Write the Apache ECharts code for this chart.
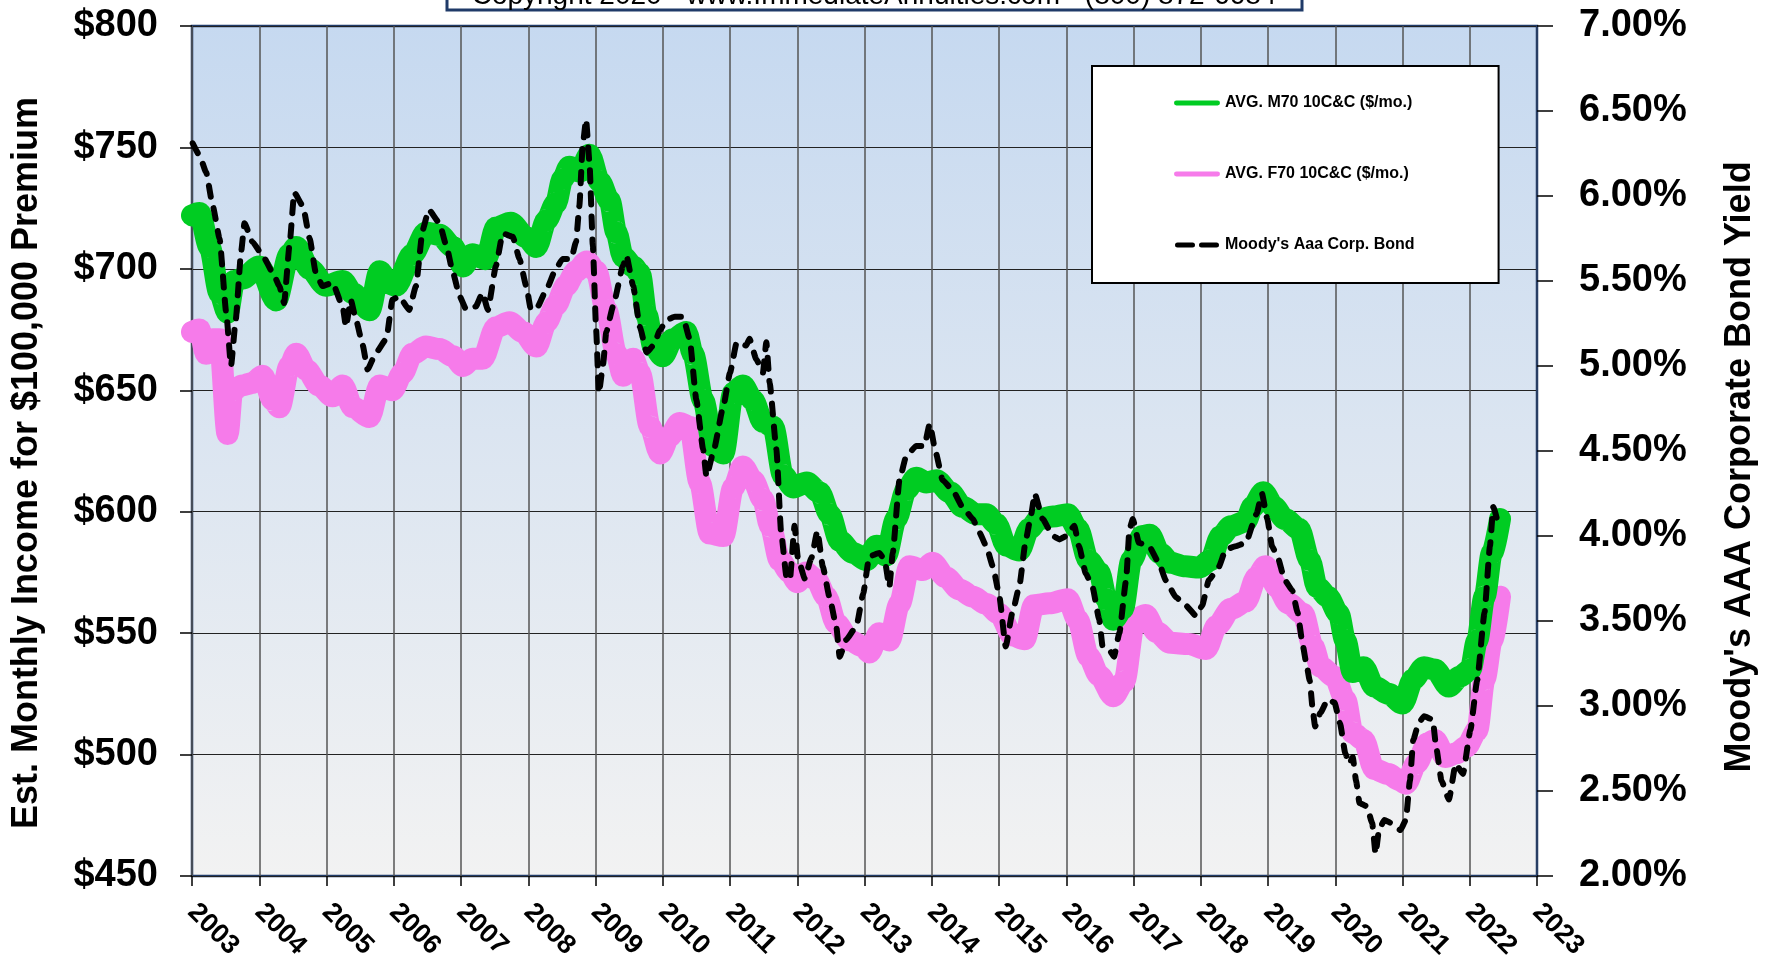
<!DOCTYPE html>
<html><head><meta charset="utf-8">
<script src="https://cdn.jsdelivr.net/npm/echarts@6/dist/echarts.min.js"></script>
<style>html,body{margin:0;padding:0;background:#fff}#chart{width:1775px;height:971px}</style>
</head><body><div id="chart"></div>
<script>
// ---- DATA ----
const seriesNames = ['AVG. M70 10C&C ($/mo.)', 'AVG. F70 10C&C ($/mo.)', "Moody's Aaa Corp. Bond"];
const yearTicks = {min: 2003, max: 2023, step: 1};
const incomeTicks = {min: 450, max: 800, step: 50};
const yieldTicks = {min: 2, max: 7, step: 0.5};

const m70Time = [2003.00,2003.11,2003.26,2003.41,2003.53,2003.63,2003.75,2004.00,2004.25,2004.45,2004.55,2004.75,2004.99,2005.24,2005.39,2005.64,2005.79,2005.93,2006.03,2006.28,2006.48,2006.68,2006.88,2007.03,2007.17,2007.37,2007.52,2007.74,2007.97,2008.12,2008.27,2008.41,2008.51,2008.61,2008.76,2008.91,2009.06,2009.21,2009.31,2009.41,2009.56,2009.66,2009.76,2009.86,2010.00,2010.15,2010.35,2010.45,2010.60,2010.75,2010.90,2011.05,2011.19,2011.34,2011.49,2011.64,2011.79,2011.94,2012.14,2012.33,2012.48,2012.63,2012.83,2013.03,2013.18,2013.32,2013.47,2013.62,2013.77,2013.92,2014.07,2014.27,2014.46,2014.66,2014.81,2014.96,2015.11,2015.30,2015.45,2015.60,2015.80,2016.02,2016.17,2016.33,2016.49,2016.60,2016.70,2016.84,2016.97,2017.13,2017.24,2017.39,2017.55,2017.77,2017.98,2018.14,2018.30,2018.45,2018.67,2018.77,2018.93,2019.09,2019.25,2019.46,2019.62,2019.73,2019.89,2020.05,2020.15,2020.26,2020.42,2020.58,2020.79,2021.00,2021.16,2021.32,2021.48,2021.69,2021.85,2022.01,2022.11,2022.22,2022.33,2022.45];
const m70Income = [722,723,709,690,682,695,696,701,687,706,709,700,693,695,690,683,699,694,693,706,715,714,709,701,706,704,717,719,713,709,720,727,737,742,740,747,736,728,715,705,701,698,681,668,664,671,674,665,646,627,624,649,652,646,637,635,615,610,612,608,599,588,583,580,586,582,597,609,614,612,613,608,602,599,599,595,586,584,593,597,598,599,593,580,575,564,555.5,560,580,590,590.5,583,579,577.5,577,580,590,594,596,602,608,602,597,593,580,569,565,558,547,534,536,528,525,521,531,536,535,528,532,535,547,565,583,597];

const f70Time = [2003.00,2003.11,2003.21,2003.31,2003.41,2003.53,2003.60,2003.75,2003.90,2004.05,2004.20,2004.30,2004.45,2004.55,2004.70,2004.89,2005.09,2005.24,2005.39,2005.64,2005.79,2005.98,2006.13,2006.28,2006.48,2006.68,2006.88,2007.03,2007.17,2007.32,2007.52,2007.72,2007.92,2008.12,2008.27,2008.41,2008.56,2008.71,2008.87,2009.01,2009.16,2009.31,2009.41,2009.56,2009.66,2009.81,2009.96,2010.10,2010.25,2010.40,2010.55,2010.70,2010.90,2011.05,2011.19,2011.34,2011.49,2011.60,2011.74,2011.89,2012.00,2012.13,2012.28,2012.43,2012.58,2012.78,2012.98,2013.07,2013.22,2013.37,2013.52,2013.67,2013.87,2014.01,2014.21,2014.41,2014.61,2014.81,2015.00,2015.20,2015.38,2015.52,2015.75,2016.02,2016.17,2016.33,2016.49,2016.70,2016.86,2017.02,2017.18,2017.34,2017.55,2017.82,2018.08,2018.24,2018.45,2018.67,2018.83,2018.96,2019.14,2019.30,2019.52,2019.67,2019.78,2019.99,2020.15,2020.26,2020.42,2020.58,2020.79,2020.95,2021.05,2021.21,2021.37,2021.48,2021.64,2021.80,2021.95,2022.11,2022.22,2022.33,2022.45];
const f70Income = [674,675,665,671,671,632,650,652,653,656,646,643,660,665,658.5,652,647.5,652,643,639,652,650,657,665,668,667,664,660,663,663,676,678,674,668,678,685,693,699,703,699,683,665,656,663,657,635,624,631,636.5,635,612,591,590,610,618.6,613,605,594,580,575,571,575,572,565,554,547,544.5,542,550,547,562,577.5,576,579,573,568,565,562,558,549,547.5,561.5,562.3,564,555.5,540.5,532.5,524,530,555.5,557.5,550.5,546,545.5,543.5,553,560,563,573,577.5,569,562.3,558,544.5,536.2,532,522.5,509,506,494,492,489.5,488,496.4,504.6,506,499,500.5,503.3,510,531,547,565];

const aaaTime = [2003.01,2003.11,2003.21,2003.31,2003.41,2003.51,2003.58,2003.65,2003.73,2003.78,2003.90,2004.05,2004.20,2004.30,2004.37,2004.45,2004.52,2004.65,2004.75,2004.84,2004.94,2005.09,2005.24,2005.29,2005.36,2005.44,2005.54,2005.61,2005.74,2005.89,2005.98,2006.08,2006.23,2006.33,2006.43,2006.52,2006.68,2006.78,2006.88,2006.98,2007.08,2007.22,2007.32,2007.40,2007.52,2007.62,2007.77,2007.87,2007.97,2008.04,2008.14,2008.27,2008.41,2008.51,2008.64,2008.71,2008.76,2008.81,2008.86,2008.91,2008.96,2009.01,2009.05,2009.11,2009.16,2009.26,2009.41,2009.46,2009.56,2009.66,2009.76,2009.86,2009.96,2010.05,2010.18,2010.30,2010.40,2010.50,2010.60,2010.65,2010.75,2010.90,2011.00,2011.10,2011.24,2011.29,2011.39,2011.49,2011.54,2011.59,2011.69,2011.76,2011.84,2011.89,2011.96,2012.01,2012.11,2012.21,2012.30,2012.38,2012.48,2012.58,2012.63,2012.73,2012.88,2012.98,2013.07,2013.22,2013.30,2013.37,2013.42,2013.52,2013.62,2013.77,2013.89,2013.97,2014.06,2014.16,2014.31,2014.46,2014.61,2014.71,2014.81,2014.91,2015.00,2015.10,2015.20,2015.30,2015.40,2015.48,2015.53,2015.65,2015.80,2015.90,2016.00,2016.12,2016.19,2016.29,2016.39,2016.49,2016.54,2016.64,2016.71,2016.79,2016.89,2016.94,2016.99,2017.08,2017.23,2017.38,2017.48,2017.63,2017.78,2017.93,2018.02,2018.12,2018.27,2018.37,2018.52,2018.67,2018.83,2018.91,2018.99,2019.06,2019.14,2019.25,2019.36,2019.44,2019.52,2019.57,2019.62,2019.67,2019.70,2019.78,2019.89,2019.99,2020.07,2020.15,2020.21,2020.26,2020.31,2020.36,2020.47,2020.55,2020.60,2020.65,2020.73,2020.84,2020.97,2021.05,2021.11,2021.16,2021.24,2021.32,2021.45,2021.50,2021.58,2021.69,2021.79,2021.90,2022.01,2022.11,2022.22,2022.30,2022.35,2022.43];
const aaaYield = [6.31,6.24,6.14,5.94,5.75,5.31,5.00,5.27,5.67,5.84,5.73,5.65,5.55,5.47,5.37,5.71,6.02,5.94,5.75,5.55,5.47,5.49,5.35,5.23,5.39,5.27,5.12,4.98,5.08,5.16,5.39,5.41,5.33,5.47,5.80,5.92,5.84,5.71,5.55,5.41,5.33,5.35,5.43,5.33,5.59,5.78,5.76,5.63,5.47,5.33,5.35,5.45,5.57,5.63,5.63,5.73,5.94,6.30,6.45,6.20,5.71,5.21,4.84,5.00,5.20,5.35,5.59,5.65,5.47,5.23,5.08,5.12,5.21,5.27,5.29,5.29,5.16,4.80,4.51,4.35,4.49,4.76,4.96,5.14,5.12,5.16,5.04,4.96,5.14,4.90,4.51,4.02,3.76,3.74,4.06,3.87,3.75,3.87,4.03,3.82,3.64,3.47,3.29,3.39,3.47,3.66,3.88,3.90,3.86,3.70,3.90,4.33,4.47,4.53,4.53,4.66,4.49,4.33,4.27,4.17,4.10,4.02,3.94,3.82,3.66,3.35,3.55,3.70,3.98,4.13,4.25,4.10,4.00,3.98,4.00,4.06,3.94,3.78,3.70,3.51,3.35,3.33,3.29,3.43,3.74,4.04,4.10,3.96,3.94,3.84,3.74,3.64,3.59,3.53,3.59,3.74,3.82,3.92,3.94,3.96,4.13,4.25,4.10,3.94,3.88,3.74,3.68,3.55,3.35,3.25,3.15,2.96,2.88,2.96,3.04,3.02,2.90,2.72,2.66,2.70,2.56,2.43,2.41,2.31,2.13,2.27,2.33,2.31,2.27,2.33,2.56,2.80,2.90,2.94,2.92,2.76,2.56,2.45,2.66,2.60,2.86,3.15,3.55,3.94,4.17,4.06];

const copyrightText = 'Copyright 2020 - www.ImmediateAnnuities.com - (800) 872-6684';
const leftTitle = 'Est. Monthly Income for $100,000 Premium';
const rightTitle = "Moody's AAA Corporate Bond Yield";

// ---- CHART ----
const zip = (a, b) => a.map((t, i) => [t, b[i]]);
const FONT = "'Liberation Sans', Arial, Helvetica, sans-serif";
const NAVY = '#1F3A68';
const GREEN = '#00CC22', PINK = '#F67BEA', BLACK = '#000000';
const chart = echarts.init(document.getElementById('chart'), null, {renderer: 'canvas'});

const barIcon = 'path://M2,0 H44 A2,2 0 0 1 44,5 H2 A2,2 0 0 1 2,0 Z';
const dashIcon = 'path://M2,0 H17 A2,2 0 0 1 17,5 H2 A2,2 0 0 1 2,0 Z M26,0 H41 A2,2 0 0 1 41,5 H26 A2,2 0 0 1 26,0 Z';

const option = {
  animation: false,
  backgroundColor: '#ffffff',
  textStyle: {fontFamily: FONT},
  grid: {
    left: 192, top: 26, width: 1345, height: 850, show: true,
    borderColor: NAVY, borderWidth: 2.5,
    backgroundColor: {type: 'linear', x: 0, y: 0, x2: 0, y2: 1,
      colorStops: [{offset: 0, color: '#C6D9F0'}, {offset: 1, color: '#F2F2F2'}]}
  },
  xAxis: {
    type: 'value', min: yearTicks.min, max: yearTicks.max, interval: yearTicks.step,
    axisLine: {show: false},
    axisTick: {show: true, length: 10, lineStyle: {color: '#000', width: 1.5}},
    axisLabel: {rotate: -45, margin: 32, fontSize: 27, fontWeight: 'bold', color: '#000', fontFamily: FONT,
      formatter: v => String(v)},
    splitLine: {show: true, lineStyle: {color: '#555', width: 1.5}}
  },
  yAxis: [
    {
      type: 'value', position: 'left', min: incomeTicks.min, max: incomeTicks.max, interval: incomeTicks.step,
      axisLine: {show: false},
      axisTick: {show: true, length: 12, lineStyle: {color: '#000', width: 1.5}},
      axisLabel: {margin: 34, fontSize: 38, fontWeight: 'bold', color: '#000', fontFamily: FONT,
        formatter: v => '$' + v},
      splitLine: {show: true, lineStyle: {color: '#222', width: 1}}
    },
    {
      type: 'value', position: 'right', min: yieldTicks.min, max: yieldTicks.max, interval: yieldTicks.step,
      axisLine: {show: true, lineStyle: {color: NAVY, width: 1.5}},
      axisTick: {show: true, length: 16, lineStyle: {color: '#000', width: 1.5}},
      axisLabel: {margin: 42, fontSize: 38, fontWeight: 'bold', color: '#000', fontFamily: FONT,
        formatter: v => v.toFixed(2) + '%'},
      splitLine: {show: false}
    }
  ],
  legend: {
    orient: 'vertical', left: 1092, top: 66,
    padding: [29, 84, 30, 82], itemGap: 55, itemWidth: 46, itemHeight: 5,
    backgroundColor: '#fff', borderColor: '#000', borderWidth: 2,
    selectedMode: false,
    textStyle: {fontSize: 16, fontWeight: 'bold', color: '#000', fontFamily: FONT},
    data: [
      {name: seriesNames[0], icon: barIcon, itemStyle: {color: GREEN}},
      {name: seriesNames[1], icon: barIcon, itemStyle: {color: PINK}},
      {name: seriesNames[2], icon: dashIcon, itemStyle: {color: BLACK}}
    ]
  },
  series: [
    {
      name: seriesNames[1], type: 'line', yAxisIndex: 0, data: zip(f70Time, f70Income),
      symbol: 'none', smooth: 0.3, smoothMonotone: 'x', z: 2,
      lineStyle: {color: PINK, width: 22, cap: 'round', join: 'round'},
      itemStyle: {color: PINK}
    },
    {
      name: seriesNames[0], type: 'line', yAxisIndex: 0, data: zip(m70Time, m70Income),
      symbol: 'none', smooth: 0.3, smoothMonotone: 'x', z: 3,
      lineStyle: {color: GREEN, width: 22, cap: 'round', join: 'round'},
      itemStyle: {color: GREEN}
    },
    {
      name: seriesNames[2], type: 'line', yAxisIndex: 1, data: zip(aaaTime, aaaYield),
      symbol: 'none', smooth: 0.15, smoothMonotone: 'x', z: 4,
      lineStyle: {color: BLACK, width: 6, type: [11, 12], cap: 'round', join: 'round'},
      itemStyle: {color: BLACK}
    }
  ],
  graphic: [
    {type: 'rect', z: 100, shape: {x: 447, y: -40, width: 855, height: 50},
      style: {fill: '#fff', stroke: NAVY, lineWidth: 3}},
    {type: 'text', z: 101, x: 874, y: 10,
      style: {text: copyrightText, font: '28px ' + FONT, fill: '#000', align: 'center', verticalAlign: 'bottom'}},
    {type: 'text', z: 101, x: 27, y: 463, rotation: Math.PI / 2,
      style: {text: leftTitle, font: 'bold 36px ' + FONT, fill: '#000', align: 'center', verticalAlign: 'middle'}},
    {type: 'text', z: 101, x: 1740, y: 467, rotation: Math.PI / 2,
      style: {text: rightTitle, font: 'bold 36px ' + FONT, fill: '#000', align: 'center', verticalAlign: 'middle'}}
  ]
};
chart.setOption(option);
</script></body></html>
